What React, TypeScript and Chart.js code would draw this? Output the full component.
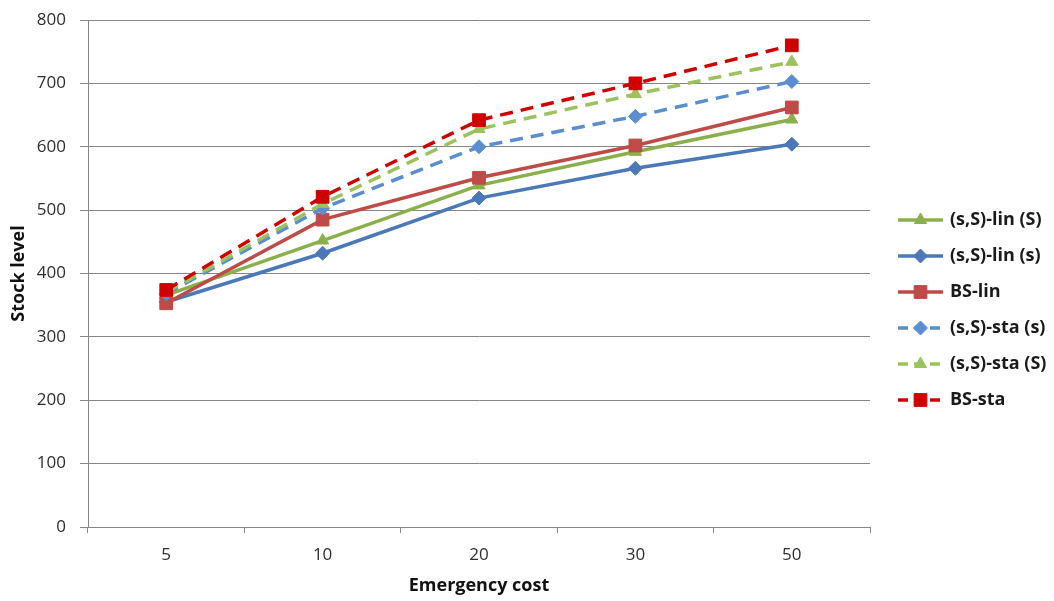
import { useEffect, useRef } from 'react';
import { Chart, registerables } from 'chart.js';
import { drawPoint } from 'chart.js/helpers';

Chart.register(...registerables);

const categories = ['5', '10', '20', '30', '50'];
const seriesNames = ['(s,S)-lin (S)', '(s,S)-lin (s)', 'BS-lin', '(s,S)-sta (s)', '(s,S)-sta (S)', 'BS-sta'];
const linS = [366, 452, 539, 592, 643];
const lins = [355, 432, 519, 566, 604];
const bsLin = [353, 485, 551, 602, 662];
const stas = [368, 503, 600, 648, 703];
const staS = [370, 510, 628, 683, 734];
const bsSta = [374, 521, 642, 700, 760];
const yTicks = [0, 100, 200, 300, 400, 500, 600, 700, 800];

const FONT = "'Open Sans', 'DejaVu Sans', sans-serif";
const DASH = [13, 8];

type Spec = { data: number[]; color: string; style: string; radius: number; dashed: boolean; order: number };
const specs: Spec[] = [
  { data: linS, color: '#8AB04C', style: 'triangle', radius: 7, dashed: false, order: 5 },
  { data: lins, color: '#4A78B8', style: 'rectRot', radius: 7, dashed: false, order: 4 },
  { data: bsLin, color: '#BE4B48', style: 'rect', radius: 9, dashed: false, order: 3 },
  { data: stas, color: '#5A8ED0', style: 'rectRot', radius: 7, dashed: true, order: 2 },
  { data: staS, color: '#9CC25E', style: 'triangle', radius: 7, dashed: true, order: 1 },
  { data: bsSta, color: '#D00000', style: 'rect', radius: 9, dashed: true, order: 0 },
];

const legendPlugin = {
  id: 'customLegend',
  afterDraw(chart: any) {
    const ctx = chart.ctx;
    const area = chart.chartArea;
    const x0 = area.right + 28;
    const x1 = x0 + 45;
    const mx = (x0 + x1) / 2;
    const startY = 220;
    const step = 36;
    specs.forEach((s, i) => {
      const y = startY + i * step;
      ctx.save();
      ctx.strokeStyle = s.color;
      ctx.lineWidth = 3.5;
      if (s.dashed) {
        ctx.setLineDash([10, 6]);
      }
      ctx.beginPath();
      ctx.moveTo(x0, y);
      ctx.lineTo(x1, y);
      ctx.stroke();
      ctx.restore();
      ctx.save();
      ctx.fillStyle = s.color;
      ctx.strokeStyle = s.color;
      ctx.lineWidth = 1;
      drawPoint(ctx, { pointStyle: s.style, radius: s.radius, borderWidth: 1, rotation: 0 } as any, mx, y);
      ctx.restore();
      ctx.save();
      ctx.fillStyle = '#1a1a1a';
      ctx.font = `bold 18px ${FONT}`;
      ctx.textBaseline = 'middle';
      ctx.textAlign = 'left';
      ctx.fillText(seriesNames[i], x1 + 7, y);
      ctx.restore();
    });
  },
};

export default function App() {
  const ref = useRef<HTMLCanvasElement | null>(null);
  useEffect(() => {
    if (!ref.current) return;
    const chart = new Chart(ref.current, {
      type: 'line',
      data: {
        labels: categories,
        datasets: specs.map((s, i) => ({
          label: seriesNames[i],
          data: s.data,
          borderColor: s.color,
          backgroundColor: s.color,
          pointBackgroundColor: s.color,
          pointBorderColor: s.color,
          borderWidth: 3.5,
          borderDash: s.dashed ? DASH : [],
          pointStyle: s.style as any,
          pointRadius: s.radius,
          pointBorderWidth: 1,
          tension: 0,
          fill: false,
          order: s.order,
        })),
      },
      options: {
        animation: false,
        responsive: false,
        maintainAspectRatio: false,
        layout: { padding: { top: 0, right: 184, left: 0, bottom: 0 } },
        plugins: { legend: { display: false }, tooltip: { enabled: false } },
        scales: {
          x: {
            offset: true,
            grid: { offset: true, drawOnChartArea: false, drawTicks: true, tickLength: 6, color: '#868686' },
            border: { color: '#868686', width: 1 },
            ticks: { color: '#2e2e2e', font: { family: FONT, size: 17 }, padding: 12 },
            title: { display: true, text: 'Emergency cost', color: '#111111', font: { family: FONT, size: 18, weight: 'bold' }, padding: { top: 0, bottom: 4 } },
            afterFit: (scale: any) => { scale.height = 74; },
          },
          y: {
            min: 0,
            max: 800,
            afterBuildTicks: (scale: any) => { scale.ticks = yTicks.map((v) => ({ value: v })); },
            grid: { color: '#868686', tickLength: 8, drawTicks: true },
            border: { color: '#868686', width: 1 },
            ticks: { color: '#2e2e2e', font: { family: FONT, size: 17 }, padding: 14 },
            title: { display: true, text: 'Stock level', color: '#111111', font: { family: FONT, size: 18, weight: 'bold' }, padding: { top: 8, bottom: 0 } },
            afterFit: (scale: any) => { scale.width = 88; scale.paddingTop = 20; scale.paddingBottom = 0; },
          },
        },
      },
      plugins: [legendPlugin],
    });
    return () => chart.destroy();
  }, []);
  return (
    <div style={{ position: 'absolute', left: 0, top: 0, width: 1054, height: 601, background: '#ffffff' }}>
      <canvas ref={ref} width={1054} height={601} style={{ width: 1054, height: 601, display: 'block' }} />
    </div>
  );
}
